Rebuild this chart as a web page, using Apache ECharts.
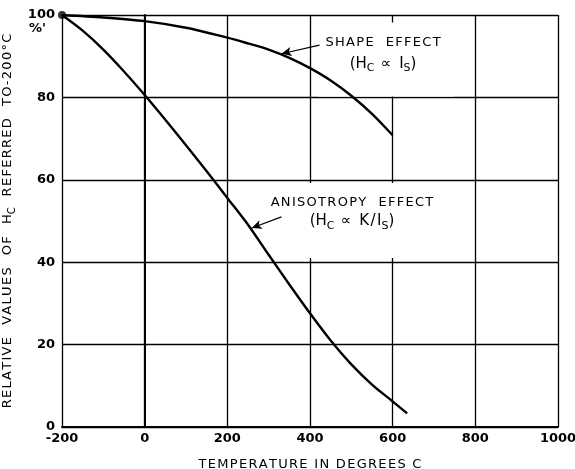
<!DOCTYPE html>
<html>
<head>
<meta charset="utf-8">
<script src="https://cdn.jsdelivr.net/npm/echarts@6/dist/echarts.min.js"></script>
<style>
  html, body { margin: 0; padding: 0; background: #fff; }
  #chart { width: 575px; height: 469px; }
</style>
</head>
<body>
<div id="chart"></div>
<script>
// temperature (deg C) / relative value (%) pairs
const shapeTemp = [-200, -100, 0, 100, 200, 250, 300, 350, 400, 450, 500, 550, 600];
const shapeVal = [100, 99.4, 98.5, 96.9, 94.5, 93.1, 91.6, 89.6, 87.1, 84.1, 80.4, 76.0, 70.8];

const anisoTemp = [-200, -150, -100, -50, 0, 50, 100, 150, 200, 250, 300, 350, 400, 450, 500, 550, 600, 635];
const anisoVal = [100, 96.2, 91.6, 86.3, 80.6, 74.6, 68.4, 62.1, 55.6, 49.1, 41.8, 34.6, 27.6, 21.0, 15.2, 10.3, 6.2, 3.3];

const startPoint = [[-200, 100]];

// annotation arrows: [from, to] in data units
const shapeArrow = [[423, 92.7], [331, 90.6]];
const anisoArrow = [[331, 51], [259, 48.3]];

// annotation text anchors (data units)
const shapeLabelAt = [584, 89.2];
const anisoLabelAt = [504, 50.1];

const xTicks = { min: -200, max: 1000, step: 200 };
const yTicks = { min: 0, max: 100, step: 20 };

const FONT = 'DejaVu Sans';

function pairs(xs, ys) {
  return xs.map((x, i) => [x, ys[i]]);
}

// stretch lettering a little, like the hand-lettered original
function spaced(s) {
  return s.split('').join('\u200A');
}

function noteRich(lh) {
  return {
    t: { fontFamily: FONT, fontSize: 13, color: '#000', lineHeight: lh },
    f: { fontFamily: FONT, fontSize: 15, color: '#000', lineHeight: lh },
    s: { fontFamily: FONT, fontSize: 11, color: '#000', lineHeight: lh, padding: [9, 0, 0, 0] },
  };
}

function arrowLine(a) {
  return {
    silent: true,
    z: 6,
    symbol: ['none', 'arrow'],
    symbolSize: [7, 10],
    label: { show: false },
    lineStyle: { color: '#000', width: 1.2, type: 'solid' },
    data: [[{ coord: a[0] }, { coord: a[1] }]],
  };
}

const chart = echarts.init(document.getElementById('chart'));

chart.setOption({
  backgroundColor: '#fff',
  animation: false,
  grid: { left: 62, right: 17, top: 15, bottom: 42, containLabel: false, outerBoundsMode: 'none' },
  xAxis: {
    type: 'value',
    min: xTicks.min,
    max: xTicks.max,
    interval: xTicks.step,
    name: spaced('TEMPERATURE IN DEGREES C'),
    nameLocation: 'middle',
    nameGap: 31,
    nameTextStyle: { fontFamily: FONT, fontSize: 13, color: '#000' },
    axisLine: { lineStyle: { color: '#000', width: 2 } },
    axisTick: { show: false },
    axisLabel: {
      fontFamily: FONT, fontSize: 13, fontWeight: 'bold', color: '#000', margin: 5,
      formatter: (v) => String(v),
    },
    splitLine: { lineStyle: { color: '#000', width: 1.3 } },
  },
  yAxis: {
    type: 'value',
    min: yTicks.min,
    max: yTicks.max,
    interval: yTicks.step,
    name: '{t|' + spaced('RELATIVE  VALUES  OF  H') + '}{s|C}{t|' + spaced('  REFERRED  TO-200°C') + '}',
    nameLocation: 'middle',
    nameGap: 44,
    nameTextStyle: {
      rich: {
        t: { fontFamily: FONT, fontSize: 13, color: '#000', lineHeight: 20 },
        s: { fontFamily: FONT, fontSize: 10, color: '#000', lineHeight: 20, padding: [8, 0, 0, 0] },
      },
    },
    axisLine: { lineStyle: { color: '#000', width: 2 } },
    axisTick: { show: false },
    axisLabel: {
      fontFamily: FONT, fontSize: 13, fontWeight: 'bold', color: '#000', margin: 7,
      formatter: (v) => String(v),
    },
    splitLine: { lineStyle: { color: '#000', width: 1.3 } },
  },
  graphic: [
    {
      type: 'text',
      left: 29,
      top: 22,
      style: { text: "%'", fontFamily: FONT, fontSize: 13, fontWeight: 'bold', fill: '#000' },
    },
  ],
  series: [
    {
      // white text boxes for the notes (sit over the grid, under the curves)
      type: 'line',
      data: [],
      markPoint: {
        z: 1,
        silent: true,
        symbol: 'rect',
        symbolSize: 0,
        data: [
          {
            coord: shapeLabelAt,
            label: {
              show: true,
              position: 'inside',
              formatter: '{t|' + spaced('SHAPE  EFFECT') + '}\n{f|(H}{s|C}{f|' + spaced(' ∝ I') + '}{s|S}{f|)}',
              backgroundColor: '#fff',
              padding: [10, 13, 22, 7],
              align: 'center',
              rich: noteRich(21),
            },
          },
          {
            coord: anisoLabelAt,
            label: {
              show: true,
              position: 'inside',
              formatter: '{t|' + spaced('ANISOTROPY  EFFECT') + '}\n{f|(H}{s|C}{f|' + spaced(' ∝ K/I') + '}{s|S}{f|)}',
              backgroundColor: '#fff',
              padding: [10, 8, 27, 6],
              align: 'center',
              rich: noteRich(19),
            },
          },
        ],
      },
    },
    {
      name: 'Shape effect',
      type: 'line',
      z: 3,
      smooth: 0.3,
      symbol: 'none',
      lineStyle: { color: '#000', width: 2.4 },
      data: pairs(shapeTemp, shapeVal),
      markLine: arrowLine(shapeArrow),
    },
    {
      name: 'Anisotropy effect',
      type: 'line',
      z: 3,
      smooth: 0.3,
      symbol: 'none',
      lineStyle: { color: '#000', width: 2.4 },
      data: pairs(anisoTemp, anisoVal),
      markLine: arrowLine(anisoArrow),
    },
    {
      type: 'scatter',
      z: 4,
      symbolSize: 8,
      itemStyle: { color: '#000' },
      data: startPoint,
    },
  ],
});
</script>
</body>
</html>
